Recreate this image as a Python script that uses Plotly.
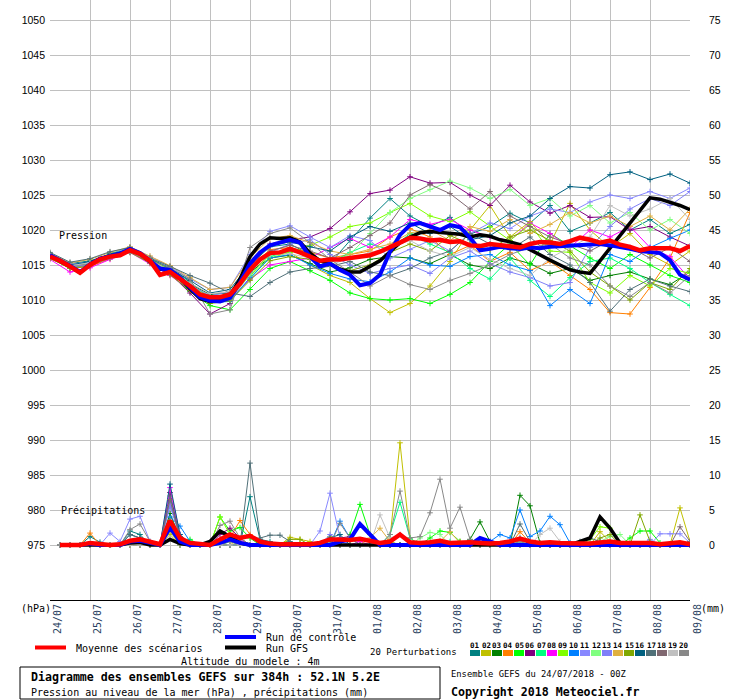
import plotly.graph_objects as go

# forecast hours (24/07/2018 00Z + h)
HOURS_6 = list(range(0, 385, 6))
HOURS_12 = list(range(0, 385, 12))
PRCP_HOURS = list(range(6, 385, 6))

DAY_TICKS = list(range(0, 385, 24))
DAY_LABELS = ["24/07", "25/07", "26/07", "27/07", "28/07", "29/07", "30/07", "31/07",
              "01/08", "02/08", "03/08", "04/08", "05/08", "06/08", "07/08", "08/08", "09/08"]

# pressure (hPa), 6h steps
MEAN_PRES = [1016.2, 1015.6, 1014.8, 1013.9, 1015.0, 1015.8, 1016.2, 1016.4, 1017.1, 1016.6,
             1015.6, 1013.6, 1014.0, 1013.0, 1012.0, 1010.8, 1010.4, 1010.4, 1010.8, 1012.3,
             1014.3, 1015.8, 1016.7, 1016.8, 1017.3, 1016.8, 1016.2, 1015.6, 1015.8, 1015.8,
             1016.0, 1016.2, 1016.4, 1016.9, 1017.5, 1018.2, 1018.9, 1018.8, 1018.5, 1018.6,
             1018.3, 1018.4, 1017.8, 1017.7, 1018.0, 1017.8, 1017.6, 1017.5, 1018.0, 1018.3,
             1018.2, 1018.0, 1018.4, 1018.9, 1018.6, 1018.2, 1018.5, 1017.9, 1017.6, 1017.1,
             1017.4, 1017.4, 1017.4, 1017.0, 1017.7]
CTRL_PRES = [1016.4, 1015.7, 1014.9, 1014.0, 1015.1, 1015.9, 1016.3, 1016.6, 1017.3, 1016.7,
             1015.6, 1014.5, 1014.3, 1013.2, 1011.8, 1010.4, 1009.9, 1009.8, 1010.3, 1012.5,
             1015.2, 1016.8, 1017.8, 1018.2, 1018.6, 1018.2, 1016.2, 1014.8, 1015.2, 1014.3,
             1013.6, 1012.1, 1012.4, 1013.6, 1016.9, 1019.3, 1020.7, 1021.0, 1020.5, 1020.0,
             1020.7, 1020.4, 1018.9, 1017.1, 1017.3, 1017.6, 1017.4, 1017.3, 1017.5, 1017.4,
             1017.6, 1017.7, 1017.7, 1017.8, 1017.9, 1018.0, 1017.8, 1017.6, 1017.3, 1017.0,
             1016.9, 1016.7, 1015.7, 1013.6, 1012.9]
GFS_PRES = [1016.3, 1015.6, 1014.8, 1013.9, 1015.1, 1015.9, 1016.3, 1016.6, 1017.2, 1016.6,
            1015.5, 1014.4, 1014.2, 1013.1, 1011.6, 1010.2, 1009.8, 1009.9, 1010.6, 1013.0,
            1016.2, 1018.0, 1018.9, 1018.8, 1018.9, 1018.3, 1016.7, 1015.6, 1015.2, 1014.4,
            1014.0, 1014.0, 1014.8, 1015.6, 1016.9, 1018.2, 1019.0, 1019.6, 1019.8, 1019.7,
            1019.6, 1019.4, 1019.0, 1019.3, 1019.1, 1018.6, 1018.3, 1017.9, 1017.2, 1016.4,
            1015.7, 1015.0, 1014.3, 1014.0, 1013.8, 1015.6, 1017.4, 1019.2, 1021.0, 1022.8,
            1024.6, 1024.4, 1024.0, 1023.5, 1022.9]

# precipitation (mm), 6h steps from +6h
MEAN_PRCP = [0, 0, 0, 0.3, 0.2, 0, 0.1, 0.6,
             0.8, 0.5, 0.1, 3.5, 1.0, 0.3, 0.2, 0,
             0.8, 1.5, 1.0, 1.3, 0.5, 0.2, 0.1, 0.1,
             0, 0.1, 0.3, 0.8, 0.8, 0.7, 0.9, 0.6,
             0.3, 0.5, 1.5, 0.4, 0.3, 0.4, 0.6, 0.3,
             0.4, 0.4, 0.3, 0.2, 0.3, 0.5, 0.9, 0.5,
             0.3, 0.4, 0.3, 0.2, 0.2, 0.2, 0.4, 0.5,
             0.3, 0.3, 0.4, 0.3, 0.1, 0.2, 0.4, 0.1]
CTRL_PRCP = [0, 0, 0, 0.2, 0, 0, 0, 0.5,
             0.6, 0.3, 0, 2.5, 0.5, 0, 0, 0,
             0.3, 0.8, 0.3, 0, 0, 0, 0, 0,
             0, 0, 0, 0, 0.5, 0.8, 3.0, 1.5,
             0, 0, 0, 0, 0, 0, 0, 0,
             0, 0, 1.0, 0.5, 0, 0, 0, 0,
             0, 0, 0, 0, 0, 0, 0, 0,
             0, 0, 0, 0, 0, 0, 0, 0]
GFS_PRCP = [0, 0, 0, 0, 0, 0, 0, 0.3,
            0.4, 0, 0, 0.8, 0.2, 0, 0, 0.5,
            2.0, 1.2, 0.3, 0, 0, 0, 0, 0,
            0, 0, 0, 0, 0, 0, 0, 0,
            0, 0, 0, 0, 0, 0, 0, 0,
            0, 0, 0, 0, 0, 0, 0, 0,
            0, 0, 0, 0, 0.5, 1.0, 4.0, 2.4,
            0.3, 0, 0, 0, 0, 0, 0, 0]

# 20 perturbations: pressure (12h steps) and precipitation (6h steps)
PRES_01 = [1016.6, 1015.2, 1015.6, 1016.5, 1017.3, 1015.9, 1014.6, 1012.6, 1010.2, 1010.4, 1015.0,
           1017.6, 1018.0, 1016.5, 1015.2, 1018.5, 1021.7, 1024.5, 1022.0, 1020.5, 1021.8, 1019.4,
           1020.5, 1022.4, 1021.0, 1023.5, 1019.8, 1021.0, 1022.5, 1020.0, 1021.5, 1019.5, 1020.8]
PRES_02 = [1016.0, 1014.6, 1015.1, 1016.0, 1017.0, 1015.4, 1013.8, 1011.8, 1010.0, 1010.5, 1013.8,
           1016.5, 1016.8, 1015.0, 1013.5, 1012.5, 1010.2, 1008.2, 1009.5, 1012.0, 1015.5, 1020.0,
           1023.5, 1019.0, 1021.2, 1018.0, 1023.8, 1020.0, 1017.5, 1019.5, 1016.5, 1015.0, 1017.0]
PRES_03 = [1016.3, 1014.9, 1015.0, 1016.1, 1017.0, 1015.7, 1014.2, 1012.3, 1010.8, 1011.0, 1014.0,
           1016.0, 1016.4, 1015.2, 1014.0, 1014.6, 1015.8, 1016.2, 1016.0, 1015.2, 1016.5, 1015.0,
           1014.5, 1016.0, 1015.2, 1013.8, 1014.5, 1012.8, 1013.5, 1014.0, 1013.0, 1012.2, 1014.0]
PRES_04 = [1016.0, 1014.5, 1014.8, 1015.9, 1016.9, 1015.3, 1013.9, 1011.6, 1010.0, 1010.5, 1014.6,
           1017.2, 1017.5, 1016.8, 1016.0, 1016.5, 1017.0, 1019.0, 1020.2, 1019.0, 1016.5, 1017.8,
           1015.5, 1016.8, 1014.2, 1015.5, 1013.5, 1011.5, 1008.2, 1008.0, 1011.8, 1016.0, 1022.5]
PRES_05 = [1016.1, 1014.7, 1015.2, 1016.3, 1017.2, 1015.5, 1013.7, 1011.2, 1009.2, 1008.6, 1011.5,
           1014.5, 1015.5, 1014.2, 1012.8, 1011.0, 1010.2, 1010.0, 1010.2, 1009.5, 1010.8, 1012.5,
           1015.5, 1018.0, 1015.0, 1019.5, 1017.8, 1016.0, 1014.5, 1016.5, 1015.0, 1013.5, 1012.5]
PRES_06 = [1016.4, 1015.0, 1015.3, 1016.4, 1017.4, 1015.8, 1013.8, 1011.0, 1008.0, 1009.5, 1014.8,
           1018.0, 1018.6, 1019.0, 1020.2, 1022.6, 1025.2, 1025.7, 1027.6, 1026.7, 1026.8, 1025.0,
           1023.5, 1026.4, 1024.0, 1022.4, 1023.5, 1021.8, 1021.9, 1020.0, 1020.5, 1019.0, 1017.7]
PRES_07 = [1016.2, 1014.9, 1015.4, 1016.6, 1017.5, 1016.0, 1014.4, 1012.4, 1010.1, 1010.0, 1013.0,
           1016.2, 1017.0, 1016.4, 1015.3, 1016.8, 1018.0, 1017.2, 1019.5, 1018.0, 1016.8, 1014.5,
           1013.0, 1016.0, 1012.8, 1010.5, 1013.2, 1015.5, 1016.0, 1014.5, 1012.5, 1010.8, 1009.2]
PRES_08 = [1015.8, 1014.0, 1014.6, 1015.8, 1016.8, 1015.2, 1013.5, 1011.5, 1009.8, 1010.2, 1013.0,
           1015.0, 1015.5, 1016.0, 1017.5, 1018.8, 1017.5, 1019.0, 1021.5, 1020.8, 1021.5, 1020.0,
           1019.0, 1018.5, 1021.0, 1019.5, 1017.5, 1020.0, 1019.0, 1020.5, 1017.5, 1016.2, 1013.0]
PRES_09 = [1015.9, 1014.6, 1015.0, 1016.2, 1017.4, 1015.8, 1014.3, 1012.2, 1010.5, 1010.6, 1013.5,
           1016.0, 1016.8, 1017.8, 1019.0, 1020.5, 1021.0, 1022.5, 1023.8, 1022.0, 1021.2, 1022.6,
           1020.5, 1018.5, 1020.8, 1017.0, 1016.8, 1012.5, 1011.0, 1013.5, 1012.0, 1014.5, 1013.8]
PRES_10 = [1016.3, 1014.8, 1015.1, 1016.2, 1017.0, 1015.4, 1013.8, 1011.7, 1009.6, 1009.8, 1013.2,
           1016.0, 1016.5, 1015.0, 1013.8, 1013.0, 1012.6, 1014.0, 1016.0, 1015.0, 1014.8, 1016.2,
           1016.5, 1015.0, 1014.2, 1009.2, 1011.5, 1009.5, 1016.5, 1015.5, 1017.5, 1018.8, 1020.0]
PRES_11 = [1016.5, 1015.1, 1015.4, 1016.5, 1017.6, 1016.2, 1014.8, 1013.0, 1011.5, 1011.8, 1016.5,
           1019.8, 1020.6, 1019.0, 1017.5, 1019.2, 1018.5, 1016.0, 1017.2, 1018.5, 1017.0, 1019.5,
           1021.0, 1020.2, 1022.0, 1023.0, 1022.5, 1024.0, 1025.0, 1024.5, 1025.5, 1024.5, 1026.0]
PRES_12 = [1016.0, 1014.7, 1015.2, 1016.4, 1017.3, 1015.6, 1014.1, 1012.1, 1010.3, 1010.0, 1013.6,
           1016.4, 1017.2, 1016.0, 1015.5, 1016.5, 1019.5, 1022.5, 1024.5, 1025.8, 1027.0, 1026.0,
           1024.5, 1025.8, 1023.5, 1024.5, 1022.0, 1023.5, 1021.0, 1022.5, 1020.0, 1021.5, 1019.5]
PRES_13 = [1016.1, 1014.8, 1015.0, 1016.0, 1016.9, 1015.5, 1014.0, 1012.2, 1010.6, 1011.2, 1014.0,
           1016.8, 1018.0, 1018.6, 1016.5, 1015.0, 1013.8, 1014.5, 1015.0, 1013.8, 1016.0, 1017.0,
           1015.2, 1014.0, 1013.2, 1012.0, 1012.5, 1017.5, 1020.5, 1023.0, 1024.5, 1023.5, 1025.5]
PRES_14 = [1016.7, 1015.3, 1015.8, 1016.8, 1017.6, 1016.3, 1014.9, 1013.2, 1011.5, 1011.8, 1016.0,
           1018.8, 1019.2, 1018.2, 1017.0, 1016.5, 1017.2, 1018.0, 1019.6, 1020.0, 1018.5, 1020.5,
           1019.8, 1021.5, 1019.5, 1020.8, 1022.5, 1021.0, 1022.0, 1020.5, 1022.0, 1020.0, 1023.0]
PRES_15 = [1016.0, 1014.5, 1014.9, 1016.0, 1016.8, 1015.3, 1013.6, 1011.4, 1009.5, 1009.9, 1012.8,
           1015.6, 1016.2, 1015.8, 1015.0, 1014.2, 1015.0, 1016.8, 1018.0, 1017.0, 1019.2, 1018.0,
           1017.2, 1019.0, 1020.0, 1018.5, 1017.0, 1014.0, 1012.0, 1010.0, 1012.5, 1011.5, 1014.5]
PRES_16 = [1016.5, 1015.0, 1015.5, 1016.6, 1017.2, 1015.8, 1014.5, 1012.8, 1011.0, 1011.5, 1015.2,
           1017.8, 1018.3, 1017.6, 1017.0, 1019.0, 1020.5, 1019.8, 1021.0, 1019.5, 1020.5, 1018.6,
           1019.2, 1021.0, 1022.0, 1024.5, 1026.2, 1026.0, 1027.9, 1028.3, 1027.2, 1028.0, 1026.7]
PRES_17 = [1016.8, 1015.4, 1015.9, 1016.9, 1017.5, 1016.0, 1014.8, 1013.5, 1012.4, 1011.0, 1010.5,
           1012.5, 1014.0, 1014.5, 1014.8, 1015.5, 1014.0, 1013.5, 1014.5, 1016.0, 1017.0, 1019.5,
           1018.0, 1017.2, 1019.0, 1016.5, 1015.0, 1012.5, 1008.4, 1011.5, 1013.0, 1012.0, 1011.2]
PRES_18 = [1016.2, 1014.9, 1015.2, 1016.3, 1017.1, 1015.6, 1014.0, 1012.0, 1010.0, 1010.2, 1014.2,
           1017.0, 1017.8, 1017.0, 1016.0, 1017.5, 1019.2, 1021.0, 1025.0, 1026.5, 1025.2, 1023.0,
           1025.5, 1022.0, 1020.5, 1019.0, 1018.0, 1017.0, 1018.5, 1017.5, 1016.0, 1017.5, 1015.5]
PRES_19 = [1016.3, 1014.9, 1015.3, 1016.2, 1017.0, 1015.7, 1014.2, 1012.4, 1010.9, 1011.2, 1014.5,
           1016.5, 1016.6, 1016.0, 1015.0, 1016.0, 1016.8, 1017.5, 1018.5, 1017.0, 1016.2, 1017.5,
           1015.8, 1014.5, 1013.5, 1016.0, 1017.5, 1019.0, 1023.5, 1022.0, 1023.0, 1024.5, 1021.5]
PRES_20 = [1016.0, 1014.6, 1015.0, 1016.0, 1016.8, 1015.7, 1014.6, 1013.0, 1008.0, 1008.6, 1017.5,
           1019.5, 1020.3, 1018.2, 1015.8, 1014.0, 1012.0, 1013.5, 1012.2, 1011.5, 1012.8, 1013.8,
           1015.0, 1016.5, 1017.5, 1018.0, 1016.0, 1015.0, 1012.0, 1010.5, 1012.5, 1011.0, 1013.5]

PRCP_01 = [0, 0, 0, 1.2, 0.4, 0, 0, 2.0, 1.5, 0, 0, 6.0, 1.0, 0, 0, 0,
           0, 0, 0, 6.9, 0.8, 0.5, 0, 0, 0, 0, 0, 0.5, 0, 0, 0, 0,
           0, 0, 0, 0, 0, 0, 0, 0, 0, 0, 0, 0, 0, 0, 0.5, 0,
           0, 0, 0, 0, 0, 0, 0, 0, 0, 0, 0, 0, 0, 0, 0, 0]
PRCP_02 = [0, 0, 0, 0, 0, 0, 0, 0, 0, 0, 0, 1.5, 0, 0, 0, 0,
           0, 0, 0, 0, 0, 0, 0, 1.1, 0.8, 0.5, 0, 1.2, 0, 0, 0, 0,
           0, 1.0, 14.6, 1.0, 0, 0, 0, 0, 0, 0, 0, 0, 0, 0, 0, 0,
           0, 0, 0, 0, 0, 0, 1.9, 0.5, 0, 0, 0, 0, 0, 0, 5.3, 0.5]
PRCP_03 = [0, 0, 0, 0, 0, 0, 0, 0, 0, 0, 0, 4.5, 1.0, 0, 0, 0,
           0, 1.0, 0, 0, 0, 0, 0, 0, 0, 0, 0, 0, 0, 0, 0, 0,
           0, 0, 0, 0, 0, 0, 0.5, 0, 0, 0.8, 3.3, 0.5, 0, 0, 7.1, 5.6,
           0.3, 0, 0, 0, 0, 0, 0, 0, 0, 0, 0, 0, 0, 0, 0, 0]
PRCP_04 = [0, 0, 0, 1.7, 0, 0, 0, 0, 0, 0, 0, 3.0, 0, 0, 0, 0,
           0, 1.0, 3.5, 1.5, 0, 0, 0, 0, 0, 0, 0, 0, 0, 0, 0, 0,
           0, 0, 0, 0, 0, 0, 0, 0, 0.5, 0, 0, 0, 0, 0, 1.9, 0.3,
           0, 0, 0, 0, 0, 0, 0, 0, 0, 0, 0, 0, 0, 0, 0, 0]
PRCP_05 = [0, 0, 0, 0, 0, 0, 0, 0, 0, 0, 0, 2.5, 0, 0.8, 0, 0,
           4.0, 2.0, 2.5, 1.0, 0, 0, 0, 0, 0, 0, 0, 0, 0, 1.5, 5.8, 1.5,
           0, 0.5, 0, 0, 0, 1.0, 2.0, 1.8, 0.5, 0, 0, 0, 0, 0, 0, 0,
           0, 0, 0, 0, 0, 0, 0, 0, 0, 1.0, 2.0, 2.0, 0.3, 0, 0, 0]
PRCP_06 = [0, 0, 0, 0, 0, 0, 0, 0, 0, 0, 0, 7.5, 1.0, 0, 0, 0,
           1.5, 2.4, 1.0, 0, 0, 0, 0, 0, 0, 0, 0, 0, 1.0, 1.2, 0, 0,
           0, 0, 0, 0, 0, 0, 0, 0, 0, 0, 0.4, 0, 0, 0, 0, 0,
           0, 0, 0, 0, 0, 0, 0, 0, 0, 0, 0, 0, 0, 0, 0, 0]
PRCP_07 = [0, 0, 0, 0, 0, 0, 0, 0, 0, 0, 0, 2.5, 0, 0.5, 0, 0,
           0, 0.5, 0, 0, 0, 0, 0, 0, 0, 0, 0, 0, 0, 0, 0, 0,
           0, 1.5, 6.1, 1.0, 0, 0, 0, 0.5, 0, 0, 0, 0, 0, 0, 0, 0,
           0, 0, 0, 0, 0, 0, 0, 0, 0, 0, 0, 0, 0, 0, 0, 0]
PRCP_08 = [0, 0, 0, 0, 0, 0, 0, 0, 0, 0, 0, 8.2, 1.5, 0, 0, 0,
           0, 1.2, 0.8, 0, 0, 0, 0, 0, 0, 0, 0, 0, 0, 0, 0.5, 0,
           0, 0, 0, 0, 0, 0, 0, 0, 0, 0, 0, 0, 0, 0, 0, 0,
           0, 0, 0, 0, 0, 0, 0, 0, 0, 0, 0, 0, 0, 0, 0, 0]
PRCP_09 = [0, 0, 0, 0, 0, 0, 0, 0, 0, 0, 0, 2.0, 0, 0, 0, 0,
           4.0, 1.5, 0, 0, 0, 0, 0, 0, 0, 0, 0, 0, 0, 0, 0, 0,
           0, 0, 0, 0, 0, 0, 0.3, 0, 0, 0, 0, 0, 0, 0, 0, 0,
           0, 0, 0, 0, 0, 0.8, 2.6, 2.4, 0.3, 0, 0, 0, 0, 0, 0, 0]
PRCP_10 = [0, 0, 0, 0, 0, 0, 0, 0, 0, 0, 0, 4.0, 2.7, 0.5, 0, 0,
           0, 0.8, 0, 0, 0, 0, 0, 0, 0, 0, 0, 0, 3.4, 1.0, 0, 0,
           0, 0, 0, 0, 0, 0, 0, 0, 0, 0, 0, 0.5, 1.5, 1.0, 5.0, 1.2,
           2.0, 4.1, 2.9, 0.3, 0, 0, 0, 0, 0, 0, 0, 0, 0, 0, 0, 0]
PRCP_11 = [0, 0, 0, 0, 0, 1.7, 0.5, 3.7, 4.1, 0.5, 0, 6.0, 1.0, 0, 0, 0,
           0, 0, 0, 0, 0, 0, 0, 0, 0, 0, 2.0, 7.4, 1.0, 0, 0, 0,
           0, 0, 0, 0, 0, 0, 0, 0, 0, 0, 0, 0, 0, 0, 0, 0,
           0, 0, 0, 0, 0, 0, 0, 0, 0, 0, 0, 0, 1.6, 1.6, 1.6, 0.3]
PRCP_12 = [0, 0, 0, 0, 0, 0, 0, 0, 0, 0, 0, 3.0, 0.5, 0, 0, 0,
           0, 0, 0, 0, 0, 0, 0, 0, 0, 0, 0, 0, 0, 0, 0, 0,
           0, 0, 0, 0, 1.0, 1.8, 1.5, 0, 0, 0, 0, 0, 0, 0, 0, 0,
           0, 0, 0, 0, 0, 0, 0.5, 1.2, 1.5, 0, 0, 0, 0, 0, 0, 0]
PRCP_13 = [0, 0, 0, 0, 0, 0, 0, 0, 0, 0, 0, 5.5, 1.5, 0, 0, 0,
           0, 0, 0, 0, 0, 0, 0, 0, 0, 0, 0, 1.5, 0.5, 0, 0, 0,
           0, 0, 0, 0, 0, 0, 0, 0, 0, 0, 0, 0, 0, 0.5, 0, 0,
           0, 0, 0, 0, 0, 0, 0, 0, 0, 0, 0, 0.8, 0, 0, 0, 0]
PRCP_14 = [0, 0, 0, 0, 0, 0, 0, 0, 0, 0, 0, 2.0, 0, 0, 0, 0,
           0, 0, 1.0, 0, 0, 0, 0, 0, 0, 0, 0, 0, 0, 0, 0, 1.0,
           2.4, 0.5, 0, 0, 0, 0, 0.5, 1.9, 0.3, 0, 0, 0, 0, 0, 0, 0,
           0, 0, 0, 0, 0, 0, 0, 0.5, 0, 0, 0, 0, 0, 0, 0, 0]
PRCP_15 = [0, 0, 0, 0, 0, 0, 0, 0, 0, 0, 0, 3.5, 0.5, 0, 0, 0,
           0, 0, 0, 0, 0, 0, 0, 0.8, 0.8, 0, 0, 0, 0, 0, 0, 0,
           0, 0, 0, 0, 0, 0, 0, 0, 0, 0, 0, 0, 0, 0, 0, 0,
           0, 0, 0, 0, 0, 0, 1.0, 1.5, 0, 0, 4.3, 0.5, 0, 0, 0, 0]
PRCP_16 = [0, 0, 0, 0, 0, 0, 0, 1.5, 1.0, 0, 0, 8.7, 1.5, 0, 0, 0,
           0, 0, 0, 0, 0, 0, 0, 0, 0, 0, 0, 1.0, 1.5, 0, 0, 0,
           0, 0, 0, 0, 0, 0, 0, 0, 0, 0, 0, 0, 0, 0, 1.0, 0,
           0, 0, 0, 0, 0, 0, 0, 0, 0, 0, 0, 0, 0, 0, 0, 0]
PRCP_17 = [0, 0, 0, 0, 0, 0, 0, 1.5, 1.0, 0, 0, 7.0, 1.2, 0, 0, 0,
           0, 0, 0, 11.7, 1.0, 1.4, 1.4, 0.5, 0, 0, 0, 0, 0, 0, 0, 0,
           0, 0, 0, 0, 0, 0, 0, 0, 0, 0, 0, 0, 0, 0, 3.0, 0.5,
           0, 0, 0, 0, 0.5, 1.0, 0.5, 0, 0, 0, 0, 0, 0, 0, 0, 0]
PRCP_18 = [0, 0, 0, 0, 0, 0, 0, 0, 0, 0, 0, 6.5, 1.0, 0, 0, 0,
           0, 0.5, 0, 0, 0, 0, 0, 0, 0, 0, 0, 0, 0, 0, 0, 0,
           0, 0, 0, 0, 0, 0, 0, 0, 0, 0, 0, 0, 0, 0, 0, 0,
           0, 0, 0, 0, 0, 0, 0, 0, 0, 0, 0, 0, 0, 0, 2.6, 0.5]
PRCP_19 = [0, 0, 0, 0, 0, 0, 0, 0, 0, 0, 0, 1.0, 0, 0, 0, 0,
           0, 0, 0, 0, 0, 0, 0, 0, 0, 0, 0, 0, 0, 0, 0, 0,
           4.3, 1.0, 1.5, 0.5, 0, 0, 0, 0, 0, 0, 0, 0, 0, 0, 0, 0,
           1.5, 2.4, 0.5, 0, 0, 0, 0, 0, 0, 0, 0, 0, 0, 0, 0, 0]
PRCP_20 = [0, 0, 0, 0, 0, 0, 0, 2.2, 3.0, 0.5, 0, 2.5, 0, 0, 0, 0,
           2.8, 3.4, 1.0, 0, 0, 0, 0, 0, 0, 0, 0, 0, 3.1, 1.0, 0, 0,
           0, 1.5, 7.7, 1.0, 1.2, 4.6, 9.4, 2.4, 5.4, 0.8, 0, 0, 0, 0, 0.5, 0,
           0, 0, 0, 0, 0, 0, 0, 0, 0, 0, 0, 0, 0, 0, 0, 0]

MEMBER_COLORS = ["#008080", "#c0c000", "#008000", "#ff8000", "#00ff00", "#800080", "#00ff80",
                 "#ff00ff", "#80ff00", "#0080ff", "#8888ff", "#80ff80", "#7f7ff8", "#e0b040",
                 "#80a800", "#006080", "#507078", "#806870", "#c0c0c0", "#888888"]
MEMBER_PRES = [PRES_01, PRES_02, PRES_03, PRES_04, PRES_05, PRES_06, PRES_07, PRES_08, PRES_09,
               PRES_10, PRES_11, PRES_12, PRES_13, PRES_14, PRES_15, PRES_16, PRES_17, PRES_18,
               PRES_19, PRES_20]
MEMBER_PRCP = [PRCP_01, PRCP_02, PRCP_03, PRCP_04, PRCP_05, PRCP_06, PRCP_07, PRCP_08, PRCP_09,
               PRCP_10, PRCP_11, PRCP_12, PRCP_13, PRCP_14, PRCP_15, PRCP_16, PRCP_17, PRCP_18,
               PRCP_19, PRCP_20]

MONO = "DejaVu Sans Mono"

# plot area: x 50..690 px, y 0..600 px (7 px per hPa)
def px_x(px):
    return (px - 50) / 640.0


def px_y(py):
    return (600 - py) / 600.0


fig = go.Figure()

for i, (c, pres, prcp) in enumerate(zip(MEMBER_COLORS, MEMBER_PRES, MEMBER_PRCP)):
    mk = dict(symbol="cross-thin", size=4, color=c, line=dict(width=1, color=c))
    fig.add_trace(go.Scatter(x=HOURS_12, y=pres, mode="lines+markers",
                             line=dict(color=c, width=1), marker=mk,
                             showlegend=False, hoverinfo="skip"))
    fig.add_trace(go.Scatter(x=PRCP_HOURS, y=prcp, mode="lines+markers", yaxis="y2",
                             line=dict(color=c, width=1), marker=mk,
                             showlegend=False, hoverinfo="skip"))

for pres, prcp, c, w in [(GFS_PRES, GFS_PRCP, "#000000", 3.5),
                         (CTRL_PRES, CTRL_PRCP, "#0000ff", 4),
                         (MEAN_PRES, MEAN_PRCP, "#ff0000", 4.5)]:
    fig.add_trace(go.Scatter(x=HOURS_6, y=pres, mode="lines", line=dict(color=c, width=w),
                             showlegend=False, hoverinfo="skip"))
    fig.add_trace(go.Scatter(x=PRCP_HOURS, y=prcp, mode="lines", yaxis="y2",
                             line=dict(color=c, width=w), showlegend=False, hoverinfo="skip"))

annotations = []
for h, lab in zip(DAY_TICKS, DAY_LABELS):
    annotations.append(dict(x=h, xref="x", y=0, yref="paper", text=lab, textangle=-90,
                            showarrow=False, xanchor="center", yanchor="top",
                            xshift=7, yshift=-2, font=dict(family=MONO, size=10)))


def label(text, x, y, anchor="left", size=10):
    annotations.append(dict(x=px_x(x), y=px_y(y), xref="paper", yref="paper", text=text,
                            showarrow=False, xanchor=anchor, yanchor="middle",
                            font=dict(family=MONO, size=size, color="black")))


label("(hPa)", 19, 608)
label("(mm)", 699, 608)
label("Pression", 57, 235)
label("Précipitations", 59, 510)
label("Moyenne des scénarios", 74, 648)
label("Run de contrôle", 264, 637)
label("Run GFS", 264, 648)
label("Altitude du modele : 4m", 179, 661)
label("<b>Diagramme des ensembles GEFS sur 384h : 52.1N 5.2E</b>", 29, 677, size=11.6)
label("Pression au niveau de la mer (hPa) , précipitations (mm)", 29, 692)
label("Ensemble GEFS du 24/07/2018 - 00Z", 449, 674, size=8.8)
label("<b>Copyright 2018 Meteociel.fr</b>", 449, 692, size=11.6)
label("20 Perturbations", 368, 652, size=9)

shapes = [
    dict(type="line", xref="paper", yref="paper", x0=px_x(35), x1=px_x(66),
         y0=px_y(647.5), y1=px_y(647.5), line=dict(color="#ff0000", width=4)),
    dict(type="line", xref="paper", yref="paper", x0=px_x(225), x1=px_x(256),
         y0=px_y(637), y1=px_y(637), line=dict(color="#0000ff", width=4)),
    dict(type="line", xref="paper", yref="paper", x0=px_x(225), x1=px_x(256),
         y0=px_y(647.5), y1=px_y(647.5), line=dict(color="#000000", width=4)),
    dict(type="rect", xref="paper", yref="paper", x0=px_x(20), x1=px_x(440),
         y0=px_y(667), y1=px_y(699), line=dict(color="black", width=1)),
]

# perturbation colour key
for i, c in enumerate(MEMBER_COLORS):
    x0 = 470 + 11 * i
    shapes.append(dict(type="rect", xref="paper", yref="paper", x0=px_x(x0), x1=px_x(x0 + 10),
                       y0=px_y(656), y1=px_y(650), fillcolor=c, line=dict(width=0)))
    annotations.append(dict(x=px_x(x0 + 5), y=px_y(645), xref="paper", yref="paper",
                            text="<b>%02d</b>" % (i + 1), showarrow=False, xanchor="center",
                            yanchor="middle", font=dict(family=MONO, size=7.5, color="black")))

fig.update_layout(
    width=740, height=700,
    margin=dict(l=50, r=50, t=0, b=100),
    plot_bgcolor="white", paper_bgcolor="white",
    showlegend=False,
    annotations=annotations,
    shapes=shapes,
    xaxis=dict(range=[0, 384], tickvals=DAY_TICKS, showticklabels=False, ticks="",
               showgrid=True, gridcolor="#c0c0c0", gridwidth=1, zeroline=False,
               showline=True, linecolor="black", linewidth=1),
    yaxis=dict(range=[1050 - 580 / 7.0, 1050 + 20 / 7.0], tickvals=list(range(975, 1051, 5)),
               showgrid=True, gridcolor="#c0c0c0", gridwidth=1, zeroline=False, ticks="",
               showline=False, ticklabelstandoff=4,
               tickfont=dict(family="Liberation Sans", size=10.5, color="black")),
    yaxis2=dict(range=[-580 / 7.0 + 75, 75 + 20 / 7.0], tickvals=list(range(0, 76, 5)),
                overlaying="y", side="right", showgrid=False, zeroline=False, ticks="",
                showline=False, ticklabelstandoff=18,
                tickfont=dict(family="Liberation Sans", size=10.5, color="black")),
)

# the page body has a default 8px margin; drop it so the figure fills the window
fig.write_html("out.html", config={"displayModeBar": False},
               post_script="document.body.style.margin='0px';")
